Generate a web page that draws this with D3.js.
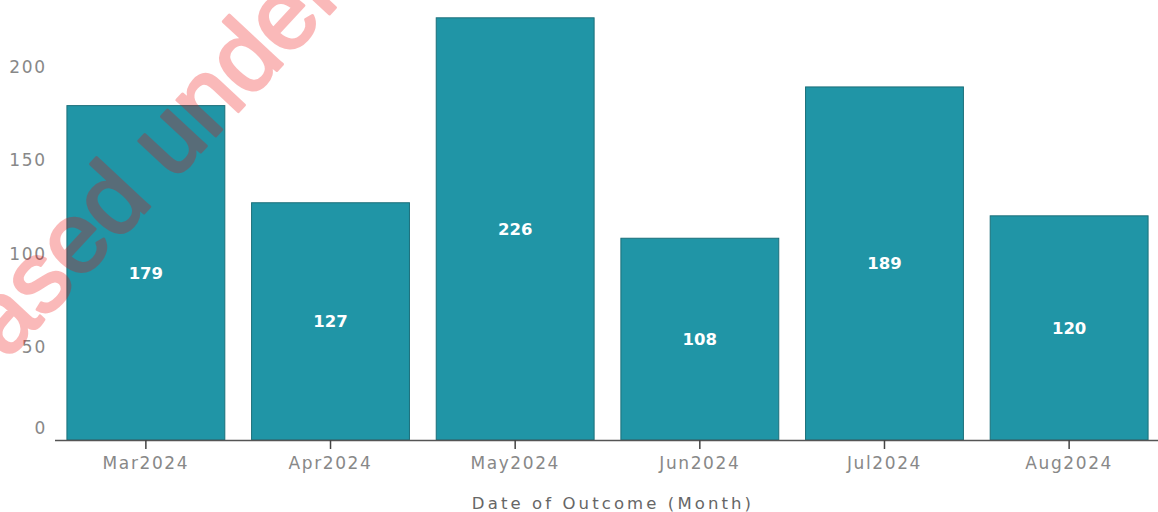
<!DOCTYPE html>
<html>
<head>
<meta charset="utf-8">
<script src="https://cdn.jsdelivr.net/npm/d3@7"></script>
<style>
  html, body { margin: 0; padding: 0; background: #fff; }
  svg { display: block; }
</style>
</head>
<body>
<svg id="chart" width="1158" height="512"></svg>
<script>
// Monthly outcome counts
const months = ["Mar2024", "Apr2024", "May2024", "Jun2024", "Jul2024", "Aug2024"];
const counts = [179, 127, 226, 108, 189, 120];
const yTicks = [0, 50, 100, 150, 200];
const xTitle = "Date of Outcome (Month)";
const watermark = "Released under";

const svg = d3.select("#chart");
const W = 1158, H = 512;

const x = d3.scaleBand()
  .domain(months)
  .range([54, 1161])
  .paddingInner(0.145)
  .paddingOuter(0.07);

const y = d3.scaleLinear()
  .domain([0, 235])
  .range([440, 1]);

const axisFont = "'DejaVu Sans', 'Noto Sans', sans-serif";

// Bars
svg.append("g").selectAll("rect")
  .data(months)
  .join("rect")
  .attr("x", (d) => x(d))
  .attr("y", (d, i) => y(counts[i]))
  .attr("width", x.bandwidth())
  .attr("height", (d, i) => y(0) - y(counts[i]))
  .attr("fill", "#2095a6")
  .attr("stroke", "#1b6f7a")
  .attr("stroke-width", 1);

// Value labels centred in each bar
svg.append("g").selectAll("text")
  .data(months)
  .join("text")
  .attr("x", (d) => x(d) + x.bandwidth() / 2)
  .attr("y", (d, i) => (y(counts[i]) + y(0)) / 2)
  .attr("dy", "0.36em")
  .attr("text-anchor", "middle")
  .attr("fill", "#ffffff")
  .attr("font-family", "'DejaVu Sans', sans-serif")
  .attr("font-weight", "bold")
  .attr("font-size", 16.5)
  .text((d, i) => counts[i]);

// Y axis labels (no axis line)
const yAxis = svg.append("g")
  .attr("transform", "translate(47,0)")
  .call(d3.axisLeft(y).tickValues(yTicks).tickSize(0).tickPadding(0));
yAxis.select(".domain").remove();
yAxis.selectAll("text")
  .attr("font-family", axisFont)
  .attr("font-size", 17)
  .attr("letter-spacing", 1.8)
  .attr("fill", "#888")
  .attr("dy", (d) => d === 0 ? "-0.38em" : "0.36em");

// X axis
const xAxis = svg.append("g")
  .attr("transform", `translate(0,${y(0)})`)
  .call(d3.axisBottom(x).tickSize(9).tickPadding(8).tickSizeOuter(0));
xAxis.select(".domain")
  .attr("d", `M55,0.5H${W}`)
  .attr("stroke", "#555")
  .attr("stroke-width", 1.5);
xAxis.selectAll(".tick line").attr("stroke", "#444").attr("stroke-width", 1.5);
xAxis.selectAll("text")
  .attr("font-family", axisFont)
  .attr("font-size", 17)
  .attr("letter-spacing", 1.6)
  .attr("fill", "#888");

// X axis title
svg.append("text")
  .attr("x", 613)
  .attr("y", 509)
  .attr("text-anchor", "middle")
  .attr("font-family", axisFont)
  .attr("font-size", 16.5)
  .attr("letter-spacing", 3.1)
  .attr("fill", "#666")
  .text(xTitle);

// Watermark: translucent as a whole so fill and outline don't double up
svg.append("g")
  .attr("opacity", 0.27)
  .append("text")
  .attr("transform", "translate(-134,511) rotate(-47)")
  .attr("font-family", "'Liberation Sans', Arial, sans-serif")
  .attr("font-size", 100)
  .attr("fill", "rgb(240,0,0)")
  .attr("stroke", "rgb(240,0,0)")
  .attr("stroke-width", 3)
  .attr("stroke-linejoin", "round")
  .text(watermark);
</script>
</body>
</html>
